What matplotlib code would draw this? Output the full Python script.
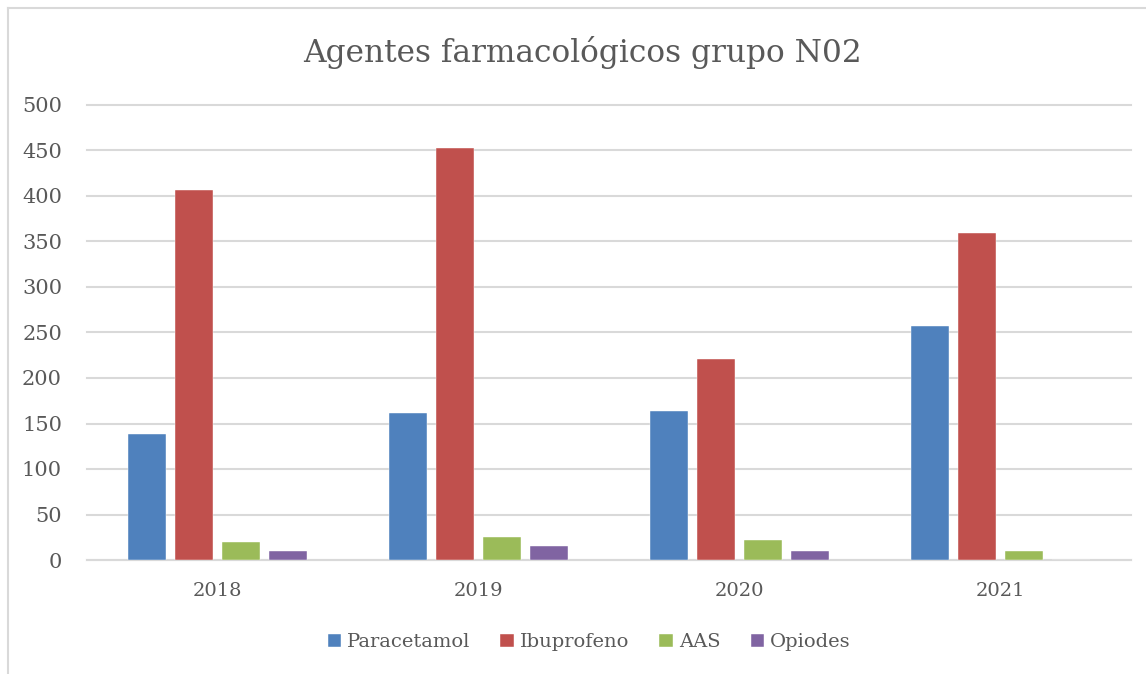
import matplotlib
matplotlib.use('Agg')
import matplotlib.pyplot as plt
import numpy as np
from matplotlib.lines import Line2D

years = ['2018', '2019', '2020', '2021']
series = ['Paracetamol', 'Ibuprofeno', 'AAS', 'Opiodes']
paracetamol = [139, 161, 164, 257]
ibuprofeno = [407, 453, 221, 359]
aas = [20, 25, 22, 10]
opiodes = [10, 15, 10, 0]
colours = ['#4f81bd', '#c0504d', '#9bbb59', '#8064a2']

plt.rcParams['font.family'] = ['DejaVu Serif']
txt = '#595959'

fig = plt.figure(figsize=(11.46, 6.74), dpi=100)
ax = fig.add_axes([87/1146, 114/674, 1044/1146, 455/674])

x = np.arange(len(years))
w = 38/261
step = 47/261
for i, vals in enumerate([paracetamol, ibuprofeno, aas, opiodes]):
    ax.bar(x + (i - 1.5)*step, vals, width=w, color=colours[i], label=series[i],
           edgecolor='white', linewidth=0.3, zorder=3)

ax.set_xlim(-0.5, len(years) - 0.5)
ax.set_ylim(0, 500)
ax.set_yticks(range(0, 501, 50))
ax.set_xticks(x)
ax.set_xticklabels(years)
ax.grid(axis='y', color='#d9d9d9', linewidth=1.5, zorder=0)
for gl in ax.get_ygridlines():
    gl.set_clip_on(False)
for s in ['top', 'right', 'left']:
    ax.spines[s].set_visible(False)
ax.spines['bottom'].set_color('#d9d9d9')
ax.spines['bottom'].set_linewidth(1.5)
ax.tick_params(axis='both', length=0, labelsize=14, colors=txt)
ax.tick_params(axis='y', labelsize=15, pad=18)
ax.tick_params(axis='x', pad=16)

fig.text(0.508, 0.922, 'Agentes farmacológicos grupo N02', ha='center', va='center',
         fontsize=22.5, color=txt)

handles, labels = ax.get_legend_handles_labels()
leg = fig.legend(handles, labels, loc='center', bbox_to_anchor=(0.514, 0.047), ncol=4,
                 frameon=False, fontsize=14, handlelength=0.7, handleheight=0.7,
                 handletextpad=0.3, columnspacing=1.55)
for t in leg.get_texts():
    t.set_color(txt)

# chart area border (left and top visible)
fig.add_artist(Line2D([8/1146, 8/1146], [0, 1 - 8/674], transform=fig.transFigure,
                      color='#d9d9d9', linewidth=1.5))
fig.add_artist(Line2D([8/1146, 1], [1 - 8/674, 1 - 8/674], transform=fig.transFigure,
                      color='#d9d9d9', linewidth=1.5))

fig.savefig('out.png', dpi=100, facecolor='white')
